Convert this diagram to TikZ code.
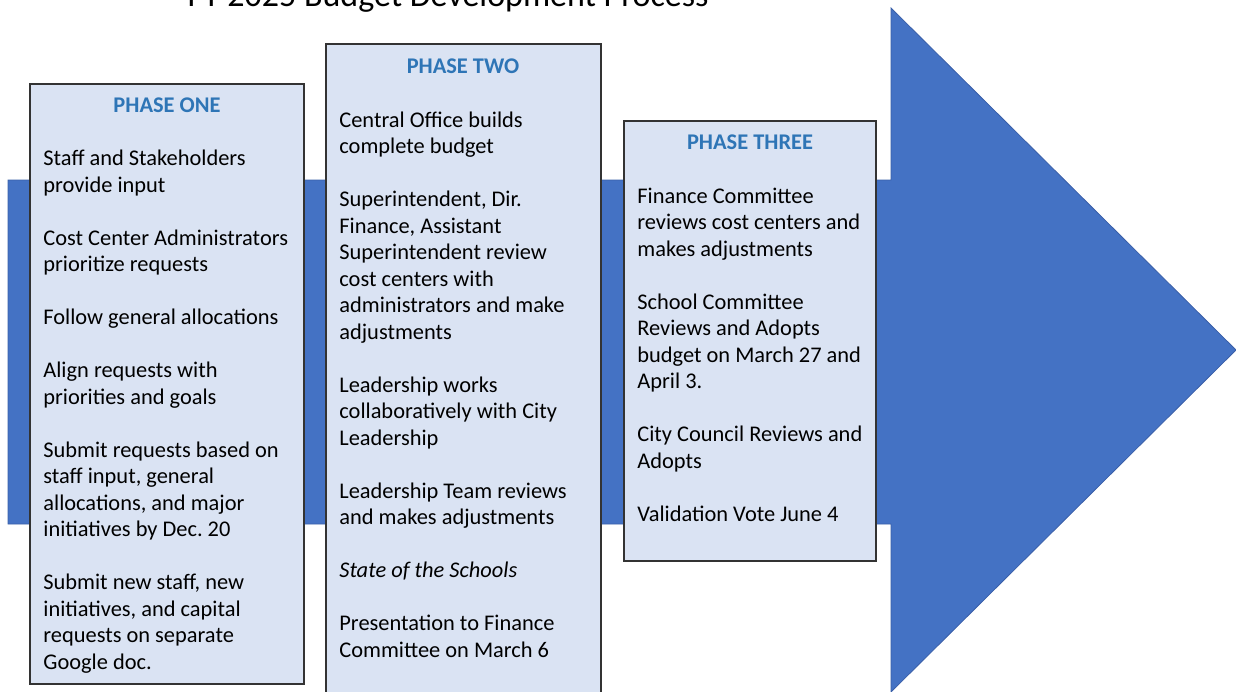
\documentclass[tikz,border=0pt]{standalone}
\usepackage{fontspec}
\setmainfont{Carlito}
\usetikzlibrary{fit}
\frenchspacing

\definecolor{arrowblue}{HTML}{4472C4}
\definecolor{arrowedge}{HTML}{3A5FA8}
\definecolor{boxfill}{HTML}{DAE3F3}
\definecolor{titleblue}{HTML}{2E75B6}

\newcommand{\itemgap}{\\[13.25pt]}

\begin{document}
\begin{tikzpicture}[
  x=0.5pt, y=-0.5pt,
  phasebox/.style={rectangle,draw=black!80,line width=0.6pt,fill=boxfill,inner sep=0pt},
  phasetitle/.style={font=\fontsize{11.2}{13.25}\selectfont\bfseries,text=titleblue,inner sep=0pt,anchor=base},
  phasetext/.style={font=\fontsize{11.2}{13.25}\selectfont,align=left,inner sep=0pt,anchor=base west}]

  \useasboundingbox (0,0) rectangle (1236,691);

  \node[font=\fontsize{17}{20}\selectfont,inner sep=0pt,anchor=base] (title) at (448,6) {FY 2025 Budget Development Process};

  % big arrow behind the phases
  \filldraw[fill=arrowblue,draw=arrowedge,line width=0.4pt]
    (8,180) -- (891,180) -- (891,8) -- (1236,350) -- (891,692) -- (891,524) -- (8,524) -- cycle;

  % phase one (text placed by its last baseline)
  \node[phasebox,fit={(30,84) (304,684)}] (one) {};
  \node[phasetitle] (onetitle) at (167,112) {PHASE ONE};
  \node[phasetext] (onetext) at (43,669) {%
    Staff and Stakeholders\\provide input\itemgap
    Cost Center Administrators\\prioritize requests\itemgap
    Follow general allocations\itemgap
    Align requests with\\priorities and goals\itemgap
    Submit requests based on\\staff input, general\\allocations, and major\\initiatives by Dec. 20\itemgap
    Submit new staff, new\\initiatives, and capital\\requests on separate\\Google doc.};

  % phase two
  \node[phasebox,fit={(326,44) (601,700)}] (two) {};
  \node[phasetitle] (twotitle) at (463,73) {PHASE TWO};
  \node[phasetext] (twotext) at (339,657) {%
    Central Office builds\\complete budget\itemgap
    Superintendent, Dir.\\Finance, Assistant\\Superintendent review\\cost centers with\\administrators and make\\adjustments\itemgap
    Leadership works\\collaboratively with City\\Leadership\itemgap
    Leadership Team reviews\\and makes adjustments\itemgap
    \textit{State of the Schools}\itemgap
    Presentation to Finance\\Committee on March 6};

  % phase three
  \node[phasebox,fit={(624,121) (876,561)}] (three) {};
  \node[phasetitle] (threetitle) at (750,149) {PHASE THREE};
  \node[phasetext] (threetext) at (637,521) {%
    Finance Committee\\reviews cost centers and\\makes adjustments\itemgap
    School Committee\\Reviews and Adopts\\budget on March 27 and\\April 3.\itemgap
    City Council Reviews and\\Adopts\itemgap
    Validation Vote June 4};
\end{tikzpicture}
\end{document}
